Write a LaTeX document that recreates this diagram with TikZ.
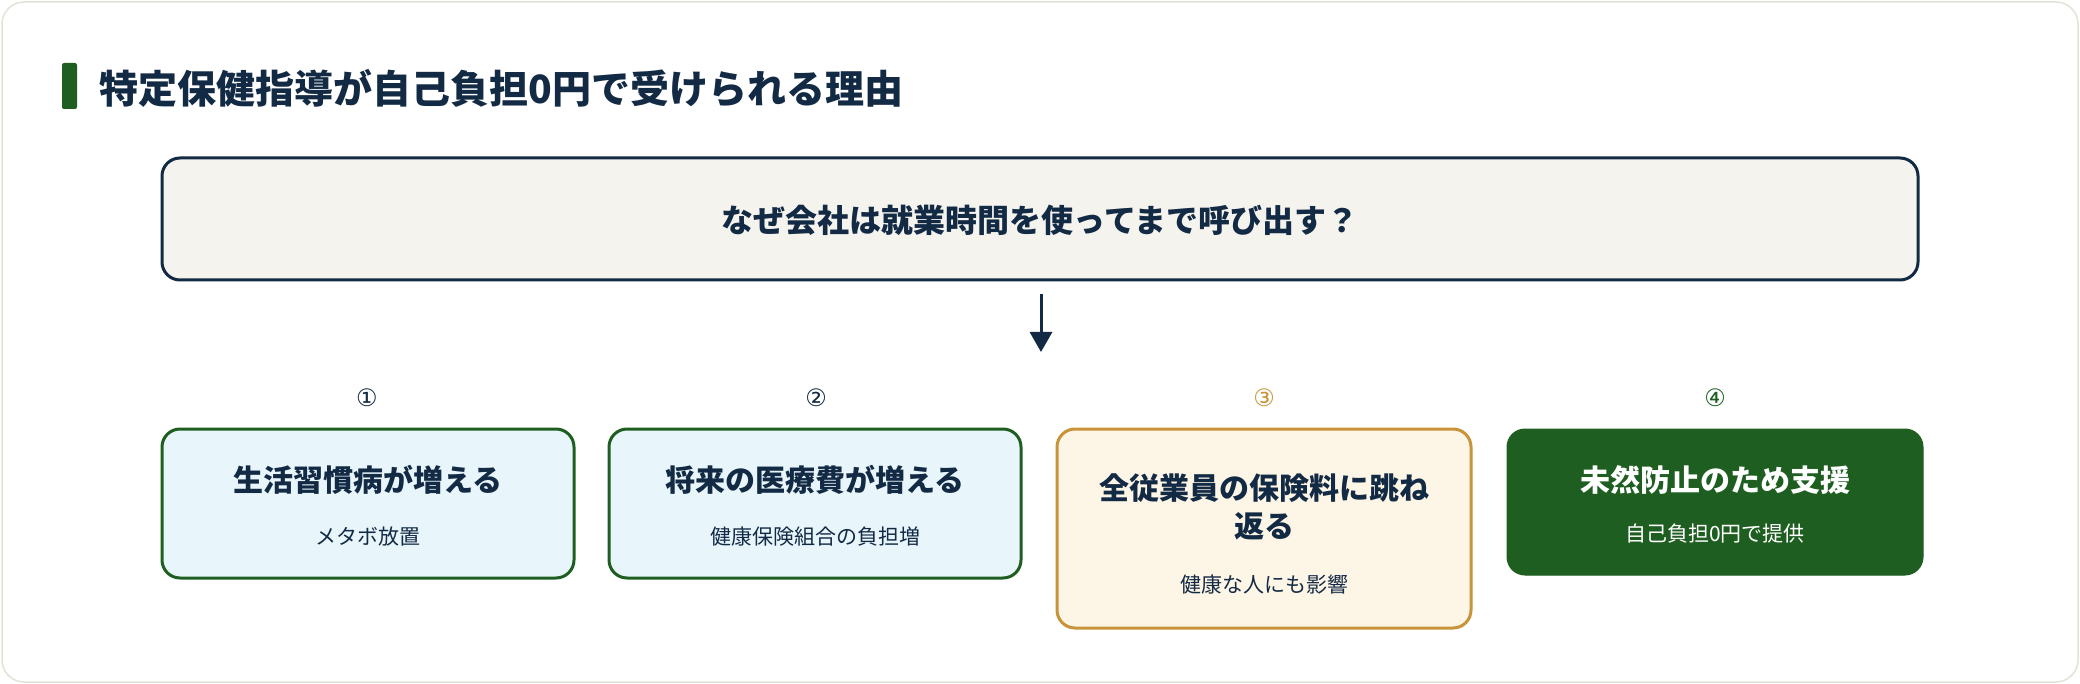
\documentclass[tikz,border=0pt]{standalone}
\usepackage{fontspec}
\setmainfont{Noto Sans CJK JP}
\newfontfamily\symf{DejaVu Sans}
\usetikzlibrary{arrows.meta}
\definecolor{navy}{HTML}{132A45}
\definecolor{dgreen}{HTML}{1E5E20}
\definecolor{gold}{HTML}{C9933A}
\definecolor{lblue}{HTML}{E8F6FC}
\definecolor{cream}{HTML}{FDF5E6}
\definecolor{qfill}{HTML}{F5F3EE}
\definecolor{cardb}{HTML}{E4E2D6}
\begin{document}
\begin{tikzpicture}[x=1pt,y=-1pt,
  card/.style={rounded corners=18pt,line width=3pt},
  ttl/.style={font=\fontsize{30}{38}\selectfont\bfseries,text=navy,align=center,text width=380pt},
  sub/.style={font=\fontsize{21}{26}\selectfont,text=navy},
  num/.style={font=\symf\fontsize{24}{28}\selectfont}]
\useasboundingbox (0,0) rectangle (2080,684);
\draw[cardb,line width=1.5pt,fill=white,rounded corners=22pt] (2,2) rectangle (2078,682);
\fill[dgreen,rounded corners=2pt] (62,63) rectangle (77,109);
\node[anchor=west,font=\fontsize{39}{44}\selectfont\bfseries,text=navy] (title) at (96,88) {特定保健指導が自己負担0円で受けられる理由};
\draw[card,navy,fill=qfill] (162,158) rectangle (1918,280);
\node[font=\fontsize{32}{38}\selectfont\bfseries,text=navy] (q) at (1040,220) {なぜ会社は就業時間を使ってまで呼び出す？};
\coordinate (qb) at (1041,294);
\coordinate (ae) at (1041,352);
\draw[navy,line width=3pt,-{Triangle[length=20pt,width=22pt]}] (qb) -- (ae);
\node[num,text=navy] (n1) at (367,398) {①};
\node[num,text=navy] (n2) at (816,398) {②};
\node[num,text=gold] (n3) at (1264,398) {③};
\node[num,text=dgreen] (n4) at (1715,398) {④};
\draw[card,dgreen,fill=lblue] (162,429) rectangle (574,578);
\draw[card,dgreen,fill=lblue] (609,429) rectangle (1021,578);
\draw[card,gold,fill=cream] (1057,429) rectangle (1471,628);
\draw[card,dgreen,fill=dgreen,line width=1pt] (1507,429) rectangle (1923,575);
\node[ttl] (b1) at (368,480) {生活習慣病が増える};
\node[sub] (s1) at (368,537) {メタボ放置};
\node[ttl] (b2) at (815,480) {将来の医療費が増える};
\node[sub] (s2) at (815,537) {健康保険組合の負担増};
\node[ttl,text width=400pt] (b3) at (1264,507) {全従業員の保険料に跳ね\\返る};
\node[sub] (s3) at (1264,585) {健康な人にも影響};
\node[ttl,text=white] (b4) at (1715,480) {未然防止のため支援};
\node[sub,text=white] (s4) at (1715,534) {自己負担0円で提供};
\end{tikzpicture}
\end{document}
